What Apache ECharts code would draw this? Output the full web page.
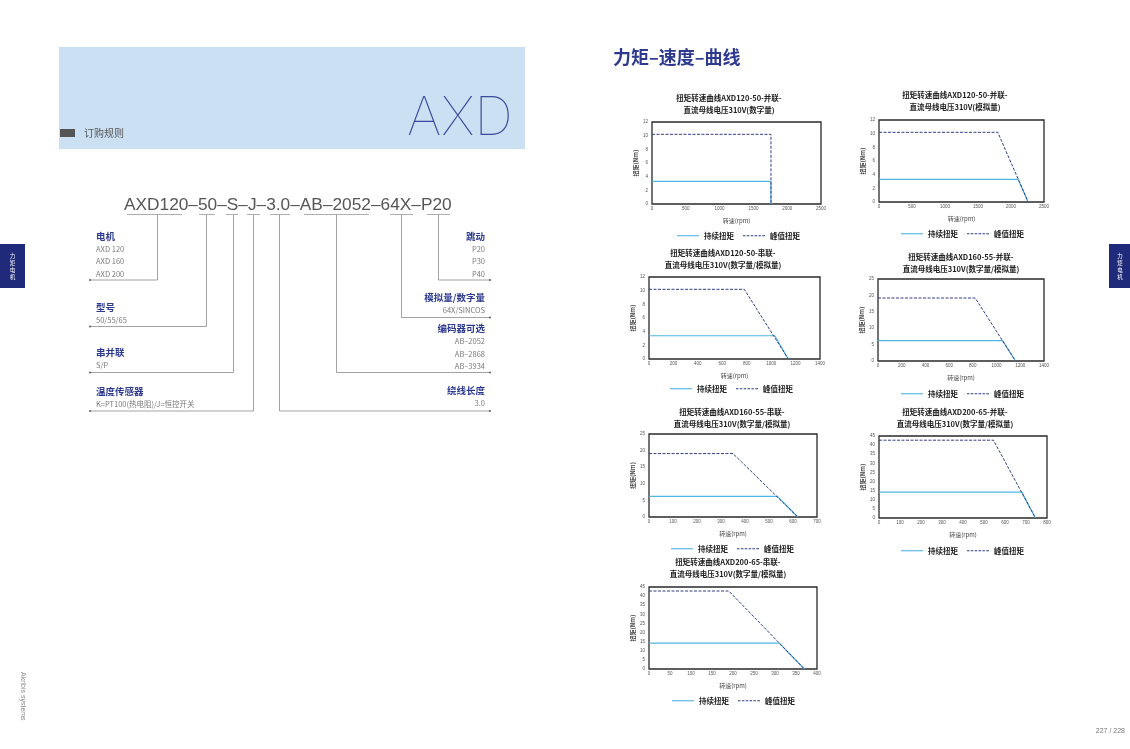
<!DOCTYPE html>
<html><head><meta charset="utf-8">
<script src="https://cdn.jsdelivr.net/npm/echarts@6/dist/echarts.min.js"></script>
<style>html,body{margin:0;padding:0;background:#fff}#c{width:1130px;height:749px}</style>
</head><body><div id="c"></div>
<script>
// ---------------- DATA ----------------
const chartTitles = [
  '扭矩转速曲线AXD120-50-并联-\n直流母线电压310V(数字量)',
  '扭矩转速曲线AXD120-50-并联-\n直流母线电压310V(模拟量)',
  '扭矩转速曲线AXD120-50-串联-\n直流母线电压310V(数字量/模拟量)',
  '扭矩转速曲线AXD160-55-并联-\n直流母线电压310V(数字量/模拟量)',
  '扭矩转速曲线AXD160-55-串联-\n直流母线电压310V(数字量/模拟量)',
  '扭矩转速曲线AXD200-65-并联-\n直流母线电压310V(数字量/模拟量)',
  '扭矩转速曲线AXD200-65-串联-\n直流母线电压310V(数字量/模拟量)'
];
const seriesNames = ['持续扭矩', '峰值扭矩'];
const xAxisName = '转速(rpm)';
const yAxisName = '扭矩(Nm)';
const xMax  = [2500, 2500, 1400, 1400, 700, 800, 400];
const xStep = [500, 500, 200, 200, 100, 100, 50];
const yMax  = [12, 12, 12, 25, 25, 45, 45];
const yStep = [2, 2, 2, 5, 5, 5, 5];

const cont1 = [[0, 3.3], [1760, 3.3], [1760, 0]];
const peak1 = [[0, 10.2], [1760, 10.2], [1760, 0]];
const cont2 = [[0, 3.3], [2110, 3.3], [2260, 0]];
const peak2 = [[0, 10.2], [1800, 10.2], [2260, 0]];
const cont3 = [[0, 3.4], [1030, 3.4], [1140, 0]];
const peak3 = [[0, 10.2], [780, 10.2], [1140, 0]];
const cont4 = [[0, 6.2], [1050, 6.2], [1160, 0]];
const peak4 = [[0, 19.2], [820, 19.2], [1160, 0]];
const cont5 = [[0, 6.2], [535, 6.2], [620, 0]];
const peak5 = [[0, 19.1], [350, 19.1], [620, 0]];
const cont6 = [[0, 14.2], [680, 14.2], [745, 0]];
const peak6 = [[0, 42.7], [545, 42.7], [745, 0]];
const cont7 = [[0, 14.2], [310, 14.2], [370, 0]];
const peak7 = [[0, 42.8], [190, 42.8], [370, 0]];
const contData = [cont1, cont2, cont3, cont4, cont5, cont6, cont7];
const peakData = [peak1, peak2, peak3, peak4, peak5, peak6, peak7];

const pageTitle = '力矩–速度–曲线';
const orderCode = 'AXD120–50–S–J–3.0–AB–2052–64X–P20';
const leftGroups = [
  ['电机', ['AXD 120', 'AXD 160', 'AXD 200']],
  ['型号', ['50/55/65']],
  ['串并联', ['S/P']],
  ['温度传感器', ['K=PT100(热电阻)/J=恒控开关']]
];
const rightGroups = [
  ['跳动', ['P20', 'P30', 'P40']],
  ['模拟量/数字量', ['64X/SINCOS']],
  ['编码器可选', ['AB–2052', 'AB–2868', 'AB–3934']],
  ['绕线长度', ['3.0']]
];

// ---------------- LAYOUT ----------------
const layout = [
  {g: [652, 122, 169, 82], t: [729, 92],  l: [677, 232]},
  {g: [879, 120, 165, 82], t: [955, 89],  l: [901, 230]},
  {g: [649, 277, 171, 82], t: [723, 247], l: [670, 385]},
  {g: [878, 279, 166, 82], t: [961, 251], l: [901, 390]},
  {g: [649, 434, 168, 83], t: [732, 406], l: [671, 545]},
  {g: [879, 436, 168, 82], t: [955, 406], l: [901, 547]},
  {g: [649, 587, 168, 82], t: [728, 556], l: [672, 697]}
];
const FONT = "'Liberation Sans','Noto Sans CJK SC',sans-serif";
const CJK = "'Noto Sans CJK SC','Liberation Sans',sans-serif";
const contColor = '#4fb6e3';
const peakColor = '#2f3d86';
const solidIcon = 'path://M0,0H20V1H0Z';
const dashIcon = 'path://M0,0H2.3V1H0ZM3.5,0H5.8V1H3.5ZM7,0H9.3V1H7ZM10.5,0H12.8V1H10.5ZM14,0H16.3V1H14ZM17.5,0H20V1H17.5Z';

const grids = [], xAxes = [], yAxes = [], series = [], titles = [], legends = [];
layout.forEach((L, i) => {
  grids.push({left: L.g[0], top: L.g[1], width: L.g[2], height: L.g[3], show: true,
    borderColor: '#2a2a2a', borderWidth: 1.3, backgroundColor: 'transparent', containLabel: false});
  xAxes.push({type: 'value', gridIndex: i, min: 0, max: xMax[i], interval: xStep[i],
    name: xAxisName, nameLocation: 'middle', nameGap: 14,
    nameTextStyle: {fontSize: 6, color: '#444', fontFamily: CJK},
    axisLine: {show: false}, axisTick: {show: false}, splitLine: {show: false},
    axisLabel: {fontSize: 4.5, color: '#555', margin: 3, fontFamily: FONT, formatter: v => String(v)}});
  yAxes.push({type: 'value', gridIndex: i, min: 0, max: yMax[i], interval: yStep[i],
    name: yAxisName, nameLocation: 'middle', nameGap: 10, nameRotate: 90,
    nameTextStyle: {fontSize: 6, color: '#444', fontFamily: CJK, fontWeight: 'bold'},
    axisLine: {show: false}, axisTick: {show: false}, splitLine: {show: false},
    axisLabel: {fontSize: 4.5, color: '#555', margin: 4, fontFamily: FONT, formatter: v => String(v)}});
  series.push({type: 'line', name: seriesNames[0], xAxisIndex: i, yAxisIndex: i,
    data: contData[i], symbol: 'none', color: contColor,
    lineStyle: {color: contColor, width: 1.2}, z: 2});
  series.push({type: 'line', name: seriesNames[1], xAxisIndex: i, yAxisIndex: i,
    data: peakData[i], symbol: 'none', color: peakColor,
    lineStyle: {color: peakColor, width: 1, type: [3, 1.5]}, z: 3});
  titles.push({text: chartTitles[i], left: L.t[0], top: L.t[1], textAlign: 'center', padding: 0,
    textStyle: {fontSize: 7.5, fontWeight: 'bold', color: '#222', lineHeight: 12, fontFamily: CJK}});
  legends.push({data: [{name: seriesNames[0], icon: solidIcon}, {name: seriesNames[1], icon: dashIcon}],
    left: L.l[0], top: L.l[1], padding: 0, itemWidth: 22, itemHeight: 1.6,
    itemGap: 9, textStyle: {fontSize: 7.5, fontWeight: 'bold', color: '#222', fontFamily: CJK}});
});

// ---------------- PAGE GRAPHICS ----------------
const g = [];
const lineCol = '#8c8c8c';
g.push({type: 'rect', shape: {x: 59, y: 47, width: 466, height: 102}, style: {fill: '#cbe0f3'}});
g.push({type: 'text', x: 407, y: 92, style: {text: 'AXD', fontSize: 53.5, fontWeight: 100,
  fontFamily: "'Inter','Lato','Open Sans',sans-serif", fill: '#3b4c9c'}});
g.push({type: 'rect', shape: {x: 60, y: 129, width: 15, height: 8}, style: {fill: '#555'}});
g.push({type: 'text', x: 84, y: 133, style: {text: '订购规则', fontSize: 10, fill: '#555',
  fontFamily: CJK, verticalAlign: 'middle'}});
g.push({type: 'text', x: 613, y: 57, style: {text: pageTitle, fontSize: 18, fontWeight: 'bold',
  fill: '#2e3a8f', fontFamily: CJK, verticalAlign: 'middle'}});
g.push({type: 'text', x: 124, y: 205, style: {text: orderCode, fontSize: 17.3, fill: '#555',
  fontFamily: "'Liberation Sans',sans-serif", verticalAlign: 'middle'}});
// underlines
[[127, 182], [199, 215], [226, 238], [247, 260], [270, 290], [304, 369], [390, 413], [427, 450]]
  .forEach(u => g.push({type: 'line', shape: {x1: u[0], y1: 214.5, x2: u[1], y2: 214.5},
    style: {stroke: '#9a9a9a', lineWidth: 0.8}}));
// connectors: [x, yEnd, side]
[[157.5, 280, 'L'], [206.5, 326.5, 'L'], [233.5, 372.5, 'L'], [253.5, 411, 'L'],
 [279.5, 411, 'R'], [336.5, 372.5, 'R'], [401.5, 317.5, 'R'], [438.5, 280, 'R']].forEach(c => {
  const xe = c[2] === 'L' ? 90 : 490;
  g.push({type: 'polyline', shape: {points: [[c[0], 214.5], [c[0], c[1]], [xe, c[1]]]},
    style: {stroke: lineCol, lineWidth: 0.8, fill: null}});
  g.push({type: 'circle', shape: {cx: xe, cy: c[1], r: 1.1}, style: {fill: '#666'}});
});
// left labels
const leftHeadY = [236, 307, 352, 391.5];
leftGroups.forEach((grp, k) => {
  g.push({type: 'text', x: 96, y: leftHeadY[k], style: {text: grp[0], fontSize: 9.5, fontWeight: 'bold',
    fill: '#2e3a8f', fontFamily: CJK, verticalAlign: 'middle'}});
  grp[1].forEach((s, j) => g.push({type: 'text', x: 96, y: leftHeadY[k] + 13 + j * 12.6,
    style: {text: s, fontSize: 7.5, fill: '#7a7a7a', fontFamily: CJK, verticalAlign: 'middle'}}));
});
const rightHeadY = [236, 297, 328.5, 390];
rightGroups.forEach((grp, k) => {
  g.push({type: 'text', x: 485, y: rightHeadY[k], style: {text: grp[0], fontSize: 9.5, fontWeight: 'bold',
    fill: '#2e3a8f', fontFamily: CJK, verticalAlign: 'middle', align: 'right'}});
  grp[1].forEach((s, j) => g.push({type: 'text', x: 485, y: rightHeadY[k] + 12.8 + j * 12.6,
    style: {text: s, fontSize: 7.5, fill: '#7a7a7a', fontFamily: CJK, verticalAlign: 'middle', align: 'right'}}));
});
// side tabs
g.push({type: 'rect', shape: {x: 0, y: 244, width: 25, height: 44}, style: {fill: '#1f2a7a'}});
g.push({type: 'text', x: 12.5, y: 266, style: {text: '力\n矩\n电\n机', fontSize: 5.5, lineHeight: 7,
  fill: '#fff', fontFamily: CJK, align: 'center', verticalAlign: 'middle'}});
g.push({type: 'rect', shape: {x: 1109, y: 244, width: 21, height: 44}, style: {fill: '#1f2a7a'}});
g.push({type: 'text', x: 1120, y: 266, style: {text: '力\n矩\n电\n机', fontSize: 5.5, lineHeight: 7,
  fill: '#fff', fontFamily: CJK, align: 'center', verticalAlign: 'middle'}});
// footer
g.push({type: 'text', x: 23, y: 672, rotation: -Math.PI / 2, style: {text: 'Akribis systems',
  fontSize: 7, fill: '#8a8a8a', fontFamily: "'Liberation Sans',sans-serif", verticalAlign: 'middle'}});
g.push({type: 'text', x: 1125, y: 731, style: {text: '227 / 228', fontSize: 7, fill: '#777',
  fontFamily: "'Liberation Sans',sans-serif", align: 'right', verticalAlign: 'middle'}});

const chart = echarts.init(document.getElementById('c'));
chart.setOption({
  animation: false,
  backgroundColor: '#fff',
  title: titles, legend: legends, grid: grids, xAxis: xAxes, yAxis: yAxes, series: series,
  graphic: {elements: g}
});
</script>
</body></html>
